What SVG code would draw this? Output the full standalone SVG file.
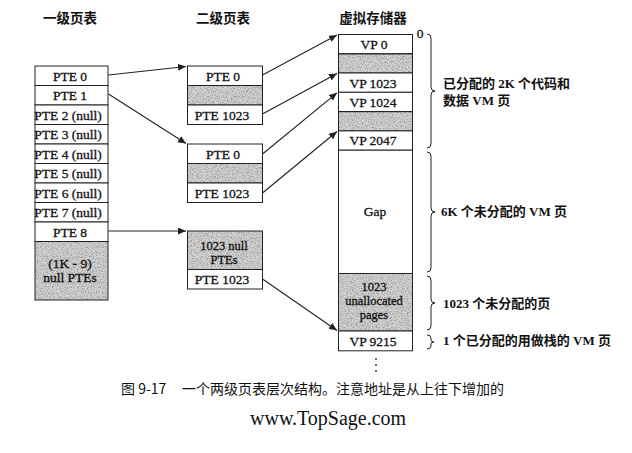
<svg xmlns="http://www.w3.org/2000/svg" width="632" height="453" viewBox="0 0 632 453">
<style>
.box{fill:#fff;stroke:#222;stroke-width:1}
.sh{fill:#c9c9c9;filter:url(#grain)}
.frame{fill:none;stroke:#222;stroke-width:1}
.t{font-family:"Liberation Serif","Noto Sans CJK SC",serif;font-size:13.5px;fill:#111;stroke:#111;stroke-width:0.3;text-anchor:middle}
.ts{font-family:"Liberation Serif","Noto Sans CJK SC",serif;font-size:12.5px;fill:#111;stroke:#111;stroke-width:0.3;text-anchor:middle}
.h{font-family:"Noto Sans CJK SC",sans-serif;font-size:13.5px;font-weight:bold;fill:#111;text-anchor:middle}
.lab{font-family:"Liberation Serif","Noto Sans CJK SC",serif;font-size:13px;font-weight:bold;fill:#111}
.cap{font-family:"Noto Sans CJK SC",sans-serif;font-size:14px;fill:#111}
.web{font-family:"Liberation Serif",serif;font-size:20px;fill:#111}
.con{fill:none;stroke:#222;stroke-width:1.1;marker-end:url(#ah)}
.brace{fill:none;stroke:#222;stroke-width:1}
</style>
<defs>
<filter id="grain" x="0" y="0" width="100%" height="100%">
<feTurbulence type="fractalNoise" baseFrequency="0.8" numOctaves="2" seed="7" result="n"/>
<feColorMatrix in="n" type="matrix" values="0 0 0 0 0.3  0 0 0 0 0.3  0 0 0 0 0.3  3 0 0 0 -1.3" result="d"/>
<feFlood flood-color="#d2d2d2" result="bg"/>
<feComposite in="d" in2="bg" operator="over" result="m"/>
<feComposite in="m" in2="SourceGraphic" operator="in"/>
</filter>
<marker id="ah" markerUnits="userSpaceOnUse" markerWidth="9" markerHeight="8" refX="8" refY="3.5" orient="auto">
<path d="M0,0 L8,3.5 L0,7 Z" fill="#222"/>
</marker>
</defs>
<rect x="0" y="0" width="632" height="453" fill="#fff"/>

<g id="headers">
<text class="h" x="70" y="23">一级页表</text>
<text class="h" x="223" y="23">二级页表</text>
<text class="h" x="373" y="23">虚拟存储器</text>
</g>

<g id="level1-table">
<rect class="sh" x="35" y="241.5" width="73" height="58.5"/>
<rect class="box" x="35" y="66" width="73" height="19.5"/>
<rect class="box" x="35" y="85.5" width="73" height="19.5"/>
<rect class="box" x="35" y="105" width="73" height="19.5"/>
<rect class="box" x="35" y="124.5" width="73" height="19.5"/>
<rect class="box" x="35" y="144" width="73" height="19.5"/>
<rect class="box" x="35" y="163.5" width="73" height="19.5"/>
<rect class="box" x="35" y="183" width="73" height="19.5"/>
<rect class="box" x="35" y="202.5" width="73" height="19.5"/>
<rect class="box" x="35" y="222" width="73" height="19.5"/>
<rect class="frame" x="35" y="241.5" width="73" height="58.5"/>
<text class="t" x="70" y="80.5">PTE 0</text>
<text class="t" x="70" y="100">PTE 1</text>
<text class="t" x="68" y="119.5">PTE 2 (null)</text>
<text class="t" x="68" y="139">PTE 3 (null)</text>
<text class="t" x="68" y="158.5">PTE 4 (null)</text>
<text class="t" x="68" y="178">PTE 5 (null)</text>
<text class="t" x="68" y="197.5">PTE 6 (null)</text>
<text class="t" x="68" y="217">PTE 7 (null)</text>
<text class="t" x="70" y="236.5">PTE 8</text>
<text class="t" x="70" y="268">(1K - 9)</text>
<text class="t" x="70" y="282">null PTEs</text>
</g>

<g id="level2-table-a">
<rect class="sh" x="187.5" y="85.5" width="75" height="19.5"/>
<rect class="box" x="187.5" y="66" width="75" height="19.5"/>
<rect class="frame" x="187.5" y="85.5" width="75" height="19.5"/>
<rect class="box" x="187.5" y="105" width="75" height="19.5"/>
<text class="t" x="223" y="80.5">PTE 0</text>
<text class="t" x="222" y="119.5">PTE 1023</text>
</g>

<g id="level2-table-b">
<rect class="sh" x="187.5" y="163.5" width="75" height="19.5"/>
<rect class="box" x="187.5" y="144" width="75" height="19.5"/>
<rect class="frame" x="187.5" y="163.5" width="75" height="19.5"/>
<rect class="box" x="187.5" y="183" width="75" height="19.5"/>
<text class="t" x="223" y="158.5">PTE 0</text>
<text class="t" x="222" y="197.5">PTE 1023</text>
</g>

<g id="level2-table-c">
<rect class="sh" x="187.5" y="231" width="75" height="38.5"/>
<rect class="frame" x="187.5" y="231" width="75" height="38.5"/>
<rect class="box" x="187.5" y="269.5" width="75" height="19.5"/>
<text class="ts" x="224" y="249.5">1023 null</text>
<text class="ts" x="224" y="263.5">PTEs</text>
<text class="t" x="222" y="284">PTE 1023</text>
</g>

<g id="virtual-memory">
<rect class="sh" x="338.5" y="53.8" width="74" height="19.2"/>
<rect class="sh" x="338.5" y="111.6" width="74" height="19.3"/>
<rect class="sh" x="338.5" y="273.5" width="74" height="57.5"/>
<rect class="box" x="338.5" y="34.5" width="74" height="19.3"/>
<rect class="frame" x="338.5" y="53.8" width="74" height="19.2"/>
<rect class="box" x="338.5" y="73" width="74" height="19.3"/>
<rect class="box" x="338.5" y="92.3" width="74" height="19.3"/>
<rect class="frame" x="338.5" y="111.6" width="74" height="19.3"/>
<rect class="box" x="338.5" y="130.9" width="74" height="19.3"/>
<rect class="box" x="338.5" y="150.2" width="74" height="123.3"/>
<rect class="frame" x="338.5" y="273.5" width="74" height="57.5"/>
<rect class="box" x="338.5" y="331" width="74" height="19.8"/>
<text class="t" x="374" y="49">VP 0</text>
<text class="t" x="373" y="87.5">VP 1023</text>
<text class="t" x="373" y="106.8">VP 1024</text>
<text class="t" x="373" y="145.4">VP 2047</text>
<text class="t" x="375" y="216">Gap</text>
<text class="ts" x="374" y="291">1023</text>
<text class="ts" x="374" y="305">unallocated</text>
<text class="ts" x="374" y="319">pages</text>
<text class="t" x="373" y="345.5">VP 9215</text>
<circle cx="376" cy="359" r="0.9" fill="#222"/>
<circle cx="376" cy="365" r="0.9" fill="#222"/>
<circle cx="376" cy="371" r="0.9" fill="#222"/>
<text class="t" x="420" y="38">0</text>
</g>

<g id="braces">
<path class="brace" d="M427,34 Q431,34 431,38 L431,87 Q431,91 435,91 Q431,91 431,95 L431,144 Q431,148 427,148"/>
<path class="brace" d="M427,152 Q431,152 431,156 L431,208 Q431,212 435,212 Q431,212 431,216 L431,268 Q431,272 427,272"/>
<path class="brace" d="M427,276 Q431,276 431,280 L431,299 Q431,303 435,303 Q431,303 431,307 L431,326 Q431,330 427,330"/>
<path class="brace" d="M427,335 Q431,335 431,338 L431,340 Q431,342 434,342 Q431,342 431,344 L431,346 Q431,349 427,349"/>
</g>

<g id="brace-labels">
<text class="lab" x="443" y="88">已分配的 2K 个代码和</text>
<text class="lab" x="443" y="105">数据 VM 页</text>
<text class="lab" x="441" y="216">6K 个未分配的 VM 页</text>
<text class="lab" x="443" y="308">1023 个未分配的页</text>
<text class="lab" x="443" y="345">1 个已分配的用做栈的 VM 页</text>
</g>

<g id="connectors">
<line class="con" x1="108.5" y1="75" x2="186" y2="66.5"/>
<line class="con" x1="108.5" y1="94" x2="186" y2="143.5"/>
<line class="con" x1="108.5" y1="231" x2="186" y2="231"/>
<line class="con" x1="262.5" y1="75" x2="337" y2="35"/>
<line class="con" x1="262.5" y1="114" x2="337" y2="73.5"/>
<line class="con" x1="262.5" y1="154" x2="337" y2="92.8"/>
<line class="con" x1="262.5" y1="193" x2="337" y2="131.5"/>
<line class="con" x1="262.5" y1="279" x2="337" y2="330.5"/>
</g>

<g id="caption">
<text class="cap" x="121" y="394">图 9-17</text>
<text class="cap" x="182" y="394">一个两级页表层次结构。注意地址是从上往下增加的</text>
<text class="web" x="250" y="425">www.TopSage.com</text>
</g>
</svg>
